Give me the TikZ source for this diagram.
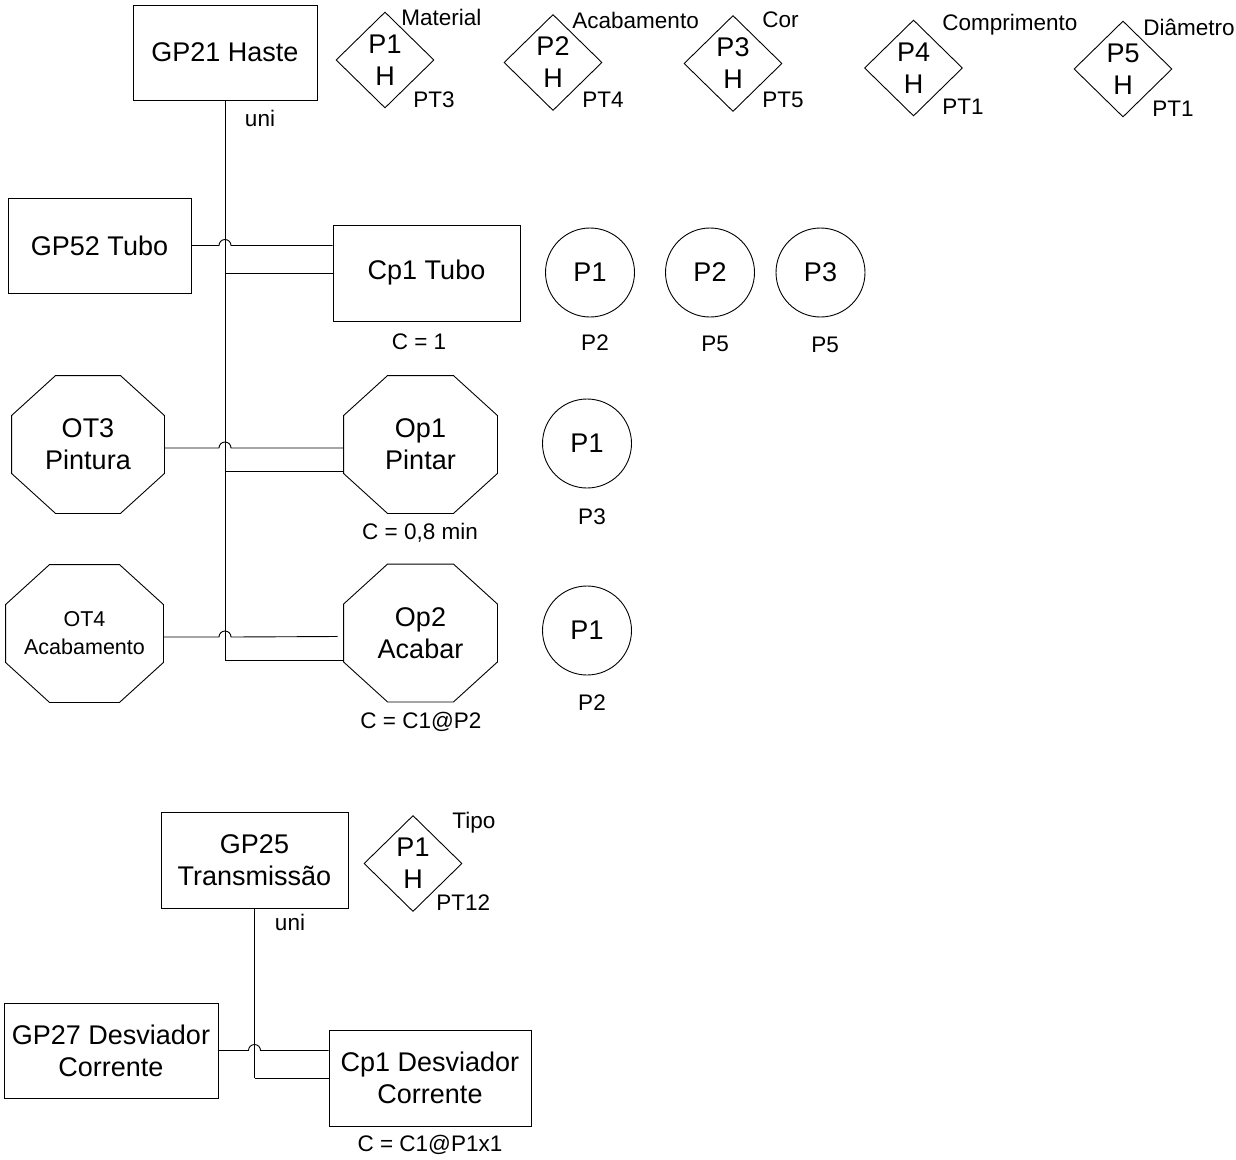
\documentclass[tikz,border=0pt]{standalone}
\usepackage{fontspec}
\setmainfont{Liberation Sans}
\usetikzlibrary{shapes.geometric}

\newcommand{\mainsize}{\fontsize{27}{32}\selectfont}
\newcommand{\lblsize}{\fontsize{22.5}{27}\selectfont}
\newcommand{\octagon}[1]{\draw ([xshift=44pt]#1.north west) -- ([xshift=-44pt]#1.north east) -- ([yshift=-40pt]#1.north east) -- ([yshift=40pt]#1.south east) -- ([xshift=-44pt]#1.south east) -- ([xshift=44pt]#1.south west) -- ([yshift=40pt]#1.south west) -- ([yshift=-40pt]#1.north west) -- cycle;}

\tikzset{
  box/.style={draw, rectangle, align=center, font=\mainsize, minimum height=95, inner sep=0},
  octo/.style={rectangle, align=center, font=\mainsize, minimum width=152, minimum height=137, inner sep=0},
  param/.style={draw, diamond, align=center, font=\mainsize, minimum width=98, minimum height=96, inner sep=0},
  ball/.style={draw, circle, font=\mainsize, minimum size=89, inner sep=0},
  note/.style={font=\lblsize, inner sep=0}
}

\begin{document}
\begin{tikzpicture}[x=1pt, y=-1pt, line width=0.9pt]
\useasboundingbox (0,0) rectangle (1236,1159);

\node[box, minimum width=184] (gp21) at (225,52.5) {GP21 Haste};
\node[note] (uni1) at (260,118) {uni};
\node[param] (h1) at (385,60) {P1\\H};
\node[param] (h2) at (553,62.5) {P2\\H};
\node[param] (h3) at (733,63.5) {P3\\H};
\node[param] (h4) at (913.5,68) {P4\\H};
\node[param] (h5) at (1123,69) {P5\\H};
\node[note, anchor=west] (h1n) at (401,17) {Material};
\node[note, anchor=west] (h1t) at (413,100) {PT3};
\node[note, anchor=west] (h2n) at (572,20) {Acabamento};
\node[note, anchor=west] (h2t) at (582,100) {PT4};
\node[note, anchor=west] (h3n) at (762,20) {Cor};
\node[note, anchor=west] (h3t) at (762,100) {PT5};
\node[note, anchor=west] (h4n) at (942,25) {Comprimento};
\node[note, anchor=west] (h4t) at (942,107) {PT1};
\node[note, anchor=west] (h5n) at (1143,27) {Diâmetro};
\node[note, anchor=west] (h5t) at (1152,109) {PT1};

\node[box, minimum width=183] (gp52) at (99.5,245.5) {GP52 Tubo};
\node[box, minimum width=187, minimum height=96] (cp1) at (426.5,273) {Cp1 Tubo};
\node[note] (cp1c) at (419,342) {C = 1};
\node[ball] (b1) at (590,272.5) {P1};
\node[ball] (b2) at (710,272.5) {P2};
\node[ball] (b3) at (820.5,272.5) {P3};
\node[note] (b1l) at (595,343) {P2};
\node[note] (b2l) at (715,344) {P5};
\node[note] (b3l) at (825,345) {P5};

\node[octo] (ot3) at (88,444.5) {OT3\\Pintura};
\node[octo, minimum width=153] (op1) at (420.5,444.5) {Op1\\Pintar};
\octagon{ot3}
\octagon{op1}
\node[note] (op1c) at (420,533) {C = 0,8 min};
\node[ball] (b4) at (587,443.5) {P1};
\node[note] (b4l) at (592,517) {P3};

\node[octo, minimum width=157, font=\fontsize{21.5}{28}\selectfont] (ot4) at (84.5,633.5) {OT4\\Acabamento};
\node[octo, minimum width=153] (op2) at (420.5,633) {Op2\\Acabar};
\octagon{ot4}
\octagon{op2}
\node[note] (op2c) at (421,722) {C = C1@P2};
\node[ball] (b5) at (587,630.5) {P1};
\node[note] (b5l) at (592,703) {P2};

\coordinate (spine) at ([yshift=-27pt]gp21.south |- op2.west);
\draw (gp21.south) -- (spine);
\draw (gp52.east) -- ([xshift=-6pt]gp21.south |- gp52.east) arc[start angle=180, end angle=0, radius=6pt] -- (cp1.west |- gp52.east);
\draw (gp21.south |- cp1.west) -- (cp1.west);
\draw ([yshift=-3.5pt]ot3.east) -- ([xshift=-6pt, yshift=-3.5pt]gp21.south |- ot3.east) arc[start angle=180, end angle=0, radius=6pt] -- ([yshift=-3.5pt]op1.west);
\draw ([yshift=-27pt]gp21.south |- op1.west) -- ([yshift=-27pt]op1.west);
\draw ([yshift=-3.5pt]ot4.east) -- ([xshift=-6pt, yshift=-3.5pt]gp21.south |- ot4.east) arc[start angle=180, end angle=0, radius=6pt] -- ([xshift=-6pt, yshift=-3.5pt]op2.west);
\draw (spine) -- ([yshift=-27pt]op2.west);

\node[box, minimum width=187, minimum height=96] (gp25) at (254.5,860) {GP25\\Transmissão};
\node[note] (uni2) at (290,922) {uni};
\node[param] (h6) at (413,863.5) {P1\\H};
\node[note, anchor=west] (h6n) at (452,823) {Tipo};
\node[note, anchor=west] (h6t) at (436,903) {PT12};

\node[box, minimum width=214] (gp27) at (111,1050.5) {GP27 Desviador\\Corrente};
\node[box, minimum width=202, minimum height=96] (cp2) at (430,1078) {Cp1 Desviador\\Corrente};
\node[note] (cp2c) at (430,1145) {C = C1@P1x1};

\draw (gp25.south) -- (gp25.south |- cp2.west);
\draw (gp27.east) -- ([xshift=-6pt]gp25.south |- gp27.east) arc[start angle=180, end angle=0, radius=6pt] -- (cp2.west |- gp27.east);
\draw (gp25.south |- cp2.west) -- (cp2.west);
\end{tikzpicture}
\end{document}
